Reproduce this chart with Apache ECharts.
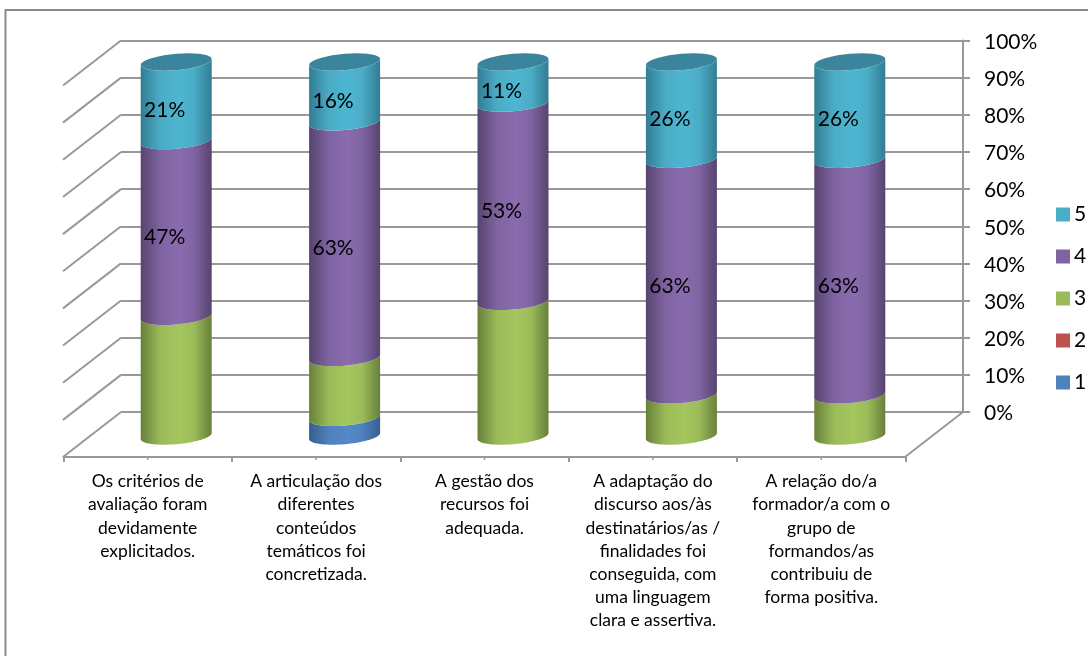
<!DOCTYPE html>
<html><head><meta charset="utf-8">
<style>html,body{margin:0;padding:0;background:#fff}#c{width:1088px;height:656px}</style>
<script src="https://cdn.jsdelivr.net/npm/echarts@6/dist/echarts.min.js"></script>
</head><body><div id="c"></div>
<script>
const categories = [
  "Os critérios de\navaliação foram\ndevidamente\nexplicitados.",
  "A articulação dos\ndiferentes\nconteúdos\ntemáticos foi\nconcretizada.",
  "A gestão dos\nrecursos foi\nadequada.",
  "A adaptação do\ndiscurso aos/às\ndestinatários/as /\nfinalidades foi\nconseguida, com\numa linguagem\nclara e assertiva.",
  "A relação do/a\nformador/a com o\ngrupo de\nformandos/as\ncontribuiu de\nforma positiva."
];
const valuesOf1 = [0, 5, 0, 0, 0];
const valuesOf2 = [0, 0, 0, 0, 0];
const valuesOf3 = [32, 16, 36, 11, 11];
const valuesOf4 = [47, 63, 53, 63, 63];
const valuesOf5 = [21, 16, 11, 26, 26];
const wallTicks = [0, 10, 20, 30, 40, 50, 60, 70, 80, 90, 100];

const font = 'Lato, Carlito, "Open Sans", sans-serif';
const grey = '#999999';
const depthX = -58, depthY = 45;
const palette = {
  '1': {base:'#4f81bd', edge:'#365f8f', lit:'#5389c9'},
  '2': {base:'#c0504d', edge:'#8c3a38', lit:'#cc5552'},
  '3': {base:'#9bbb59', edge:'#67803a', lit:'#a4c75e'},
  '4': {base:'#8064a2', edge:'#574470', lit:'#8a6cae'},
  '5': {base:'#4bacc6', edge:'#317d93', lit:'#4eb6d2'}
};
const stackDefs = [
  {name:'1', values:valuesOf1, label:false},
  {name:'2', values:valuesOf2, label:false},
  {name:'3', values:valuesOf3, label:false},
  {name:'4', values:valuesOf4, label:true},
  {name:'5', values:valuesOf5, label:true}
];
const running = categories.map(() => 0);

function arc(cx, cy, rx, ry, from, to) {
  const pts = [], n = 36, shear = 3;
  for (let i = 0; i <= n; i++) {
    const t = from + (to - from) * i / n;
    pts.push([cx + rx * Math.cos(t), cy + ry * Math.sin(t) - shear * Math.cos(t)]);
  }
  return pts;
}
function cylinderSeries(def, idx) {
  const p = palette[def.name];
  const data = def.values.map((v, i) => {
    const start = running[i];
    running[i] += v;
    return [i, start, start + v, v];
  });
  const isTop = idx === stackDefs.length - 1;
  return {
    type:'custom', name:def.name, xAxisIndex:2, yAxisIndex:2, clip:false, z:5 + idx,
    itemStyle:{color:p.base}, data, encode:{x:0, y:[1,2]},
    renderItem(params, api) {
      const v = api.value(3);
      if (!v) return null;
      const i = api.value(0);
      const bottom = api.coord([i, api.value(1)]);
      const top = api.coord([i, api.value(2)]);
      const rx = 35.5, ry = 8.2;
      const cx = bottom[0];
      const low = arc(cx, bottom[1], rx, ry, 0, Math.PI);
      const up = arc(cx, top[1], rx, ry, Math.PI, 0);
      const children = [{
        type:'polygon', shape:{points: low.concat(up)},
        style:{fill:new echarts.graphic.LinearGradient(0,0,1,0,[
          {offset:0, color:p.edge},{offset:0.28, color:p.base},
          {offset:0.55, color:p.lit},{offset:0.75, color:p.base},{offset:1, color:p.edge}
        ])}
      }];
      if (isTop) {
        children.push({
          type:'polygon', shape:{points: arc(cx, top[1], rx, ry, 0, Math.PI*2)},
          style:{fill:'#3a859c'}
        });
      }
      if (def.label) {
        const mid = api.coord([i, (api.value(1) + api.value(2)) / 2]);
        children.push({
          type:'text', z2:50,
          style:{x:cx - 11.5, y:mid[1] + 9, text:v + '%', align:'center', verticalAlign:'middle',
                 fill:'#000', font:'21px ' + font}
        });
      }
      return {type:'group', children};
    }
  };
}
const bars = stackDefs.map(cylinderSeries);

const chart = echarts.init(document.getElementById('c'), null, {renderer:'canvas', width:1088, height:656});
chart.setOption({
  animation:false,
  backgroundColor:'#fff',
  graphic:[{type:'rect', shape:{x:5.5, y:10, width:1200, height:800},
            style:{fill:'none', stroke:'#8c8c8c', lineWidth:2}, z:0}],
  legend:{
    orient:'vertical', left:1056, top:204, padding:0, itemWidth:14, itemHeight:14, itemGap:21,
    icon:'rect', selectedMode:false, data:['5','4','3','2','1'],
    itemStyle:{borderWidth:0},
    textStyle:{fontFamily:font, fontSize:21, color:'#000', padding:[0,0,0,-1]}
  },
  grid:[
    {left:121, top:40.5, width:842, height:371.5},
    {left:63.5, top:40, width:842, height:417},
    {left:92, top:62, width:842, height:374},
    {left:121, top:42, width:842, height:371.5}
  ],
  xAxis:[
    {gridIndex:0, type:'category', data:categories, show:false},
    {gridIndex:1, type:'category', data:categories,
     axisLine:{show:true, lineStyle:{color:grey, width:2}},
     axisTick:{show:true, length:5, lineStyle:{color:grey, width:2}},
     axisLabel:{interval:0, margin:13, color:'#000', fontFamily:font, fontSize:17.5, lineHeight:23.2,
                align:'center', verticalAlign:'top', hideOverlap:false},
     splitLine:{show:false}},
    {gridIndex:2, type:'category', data:categories, show:false},
    {gridIndex:3, type:'category', data:categories, show:false}
  ],
  yAxis:[
    {gridIndex:0, type:'value', position:'right', min:0, max:100, interval:10,
     axisLine:{show:true, onZero:false, lineStyle:{color:grey, width:2}},
     axisTick:{show:true, length:7, lineStyle:{color:grey, width:2}},
     splitLine:{show:true, lineStyle:{color:grey, width:2}},
     axisLabel:{show:false}},
    {gridIndex:1, type:'value', min:0, max:100, show:false},
    {gridIndex:2, type:'value', min:0, max:100, show:false},
    {gridIndex:3, type:'value', position:'right', min:0, max:100, interval:10,
     axisLine:{show:false}, axisTick:{show:false}, splitLine:{show:false},
     axisLabel:{margin:21, color:'#000', fontFamily:font, fontSize:21, formatter:'{value}%'}}
  ],
  series:[
    {
      type:'custom', xAxisIndex:0, yAxisIndex:0, clip:false, silent:true, z:1,
      data:wallTicks.map(t => [0, t]), encode:{x:0, y:1},
      renderItem(params, api) {
        const a = api.coord([0, api.value(1)]);
        const x0 = params.coordSys.x;
        const right = [];
        if (api.value(1) === 0) {
          const xr = x0 + params.coordSys.width;
          right.push({type:'line', shape:{x1:xr, y1:a[1], x2:xr+depthX, y2:a[1]+depthY},
                      style:{stroke:grey, lineWidth:2}});
        }
        return {type:'group', children:[
          {type:'line', shape:{x1:x0, y1:a[1], x2:x0+depthX, y2:a[1]+depthY},
           style:{stroke:grey, lineWidth:2}}
        ].concat(right)};
      }
    },
    {
      type:'custom', xAxisIndex:1, yAxisIndex:1, clip:false, silent:true, z:2,
      data:categories.map((c, i) => [i, 0]), encode:{x:0, y:1},
      renderItem(params, api) {
        const a = api.coord([api.value(0), 0]);
        return {type:'line', shape:{x1:a[0], y1:a[1], x2:a[0], y2:a[1]+3},
                style:{stroke:grey, lineWidth:1.5}};
      }
    }
  ].concat(bars)
});
</script></body></html>
